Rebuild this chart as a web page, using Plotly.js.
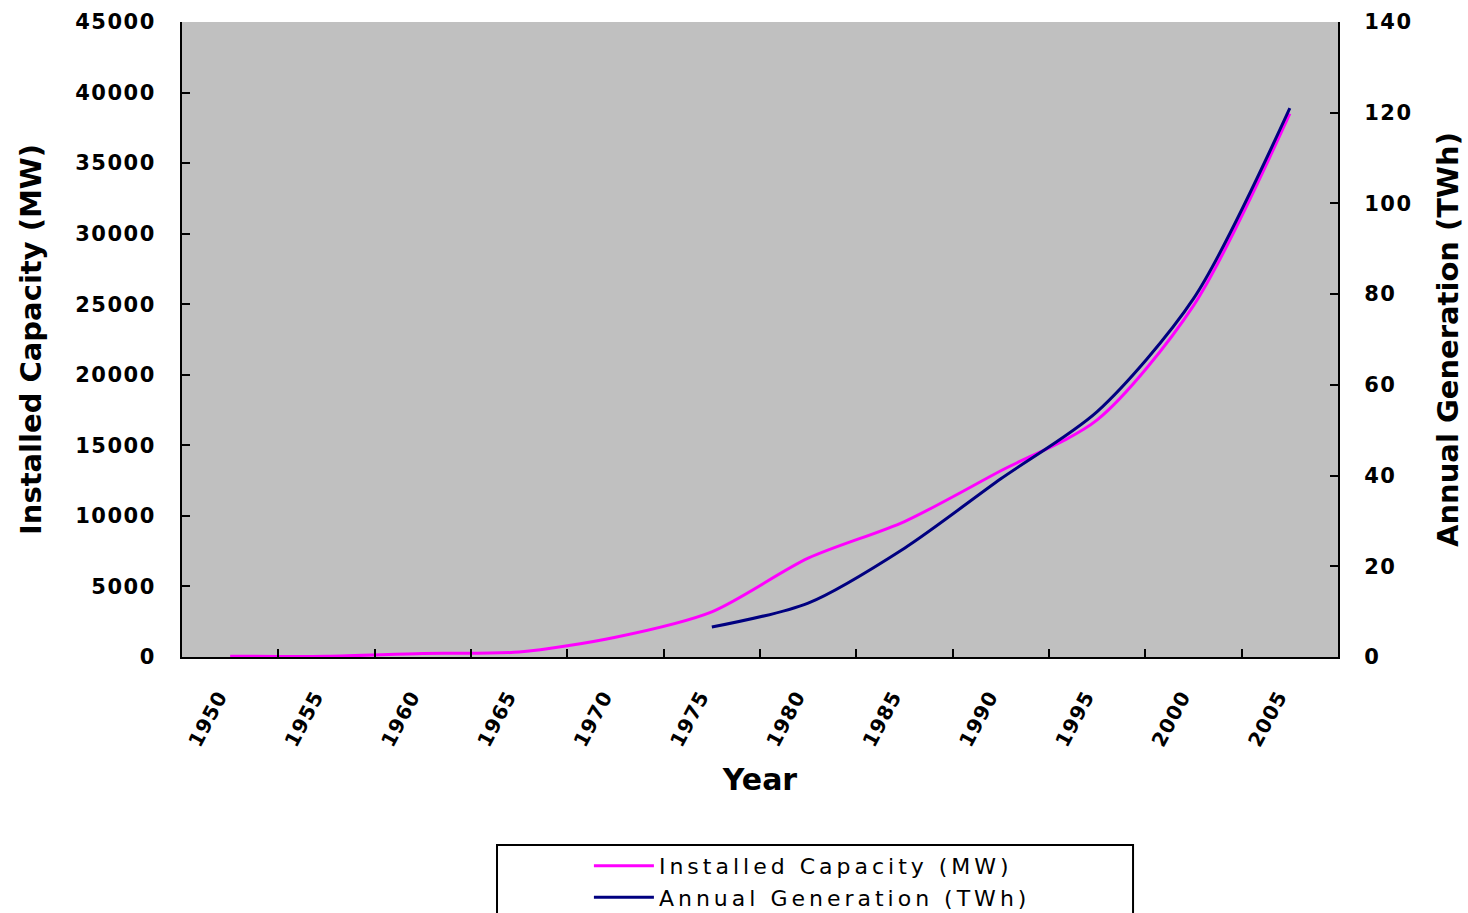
<!DOCTYPE html>
<html>
<head>
<meta charset="utf-8">
<script src="https://cdn.plot.ly/plotly-3.0.1.min.js"></script>
<style>
  html, body { margin: 0; padding: 0; background: #ffffff; }
  #chart { width: 1468px; height: 913px; }
  .ytick text, .y2tick text { letter-spacing: 1.5px; }
  .xtick text { letter-spacing: 1px; }
  .legendtext { letter-spacing: 4px; }
</style>
</head>
<body>
<div id="chart"></div>
<script>
// Five-year category labels on the horizontal axis
const years = ['1950', '1955', '1960', '1965', '1970', '1975', '1980', '1985', '1990', '1995', '2000', '2005'];

// Installed capacity, MW (left axis)
const capacityMW = [50, 60, 250, 350, 1400, 3200, 7000, 9600, 13200, 16800, 24900, 38500];

// Annual generation, TWh (right axis); no data before 1975
const generationTWh = [null, null, null, null, null, 6.6, 11.9, 24.0, 39.3, 54.1, 79.0, 121.0];

const seriesNames = ['Installed Capacity (MW)', 'Annual Generation (TWh)'];

const boldFont = 'DejaVu Sans, Arial, sans-serif';

const traces = [
  {
    x: years, y: capacityMW, name: seriesNames[0],
    type: 'scatter', mode: 'lines', yaxis: 'y',
    line: { color: '#FF00FF', width: 3, shape: 'spline', smoothing: 0.8 }
  },
  {
    x: years, y: generationTWh, name: seriesNames[1],
    type: 'scatter', mode: 'lines', yaxis: 'y2',
    line: { color: '#000080', width: 3, shape: 'spline', smoothing: 0.8 }
  }
];

const yTickFont = { family: boldFont, size: 21, color: '#000000', weight: 'bold' };
const xTickFont = { family: boldFont, size: 20, color: '#000000', weight: 'bold' };

const layout = {
  width: 1468, height: 913,
  margin: { l: 182, r: 130, t: 22, b: 256, pad: 0, autoexpand: false },
  paper_bgcolor: '#ffffff',
  plot_bgcolor: '#C0C0C0',
  showlegend: true,
  legend: {
    orientation: 'v',
    x: 0.352, y: -0.296, xanchor: 'left', yanchor: 'top',
    bgcolor: 'rgba(0,0,0,0)', borderwidth: 0,
    font: { family: 'DejaVu Sans, Arial, sans-serif', size: 22, color: '#000000' },
    itemwidth: 60, tracegroupgap: 0
  },
  xaxis: {
    type: 'category',
    range: [-0.5, 11.5],
    tickson: 'boundaries',
    ticks: 'inside', ticklen: 8, tickwidth: 2, tickcolor: '#000000',
    showline: true, linecolor: '#000000', linewidth: 2,
    showgrid: false, zeroline: false,
    tickangle: -62,
    tickfont: xTickFont,
    ticklabelstandoff: 18,
    ticklabelshift: -11,
    automargin: false,
    title: { text: 'Year', font: { family: boldFont, size: 30, color: '#000000', weight: 'bold' }, standoff: 19 }
  },
  xaxis2: {
    overlaying: 'x', side: 'top', type: 'category',
    showline: true, linecolor: '#7F7F7F', linewidth: 2,
    showticklabels: false, ticks: '', showgrid: false, zeroline: false
  },
  yaxis: {
    range: [0, 45000], dtick: 5000, tickformat: 'd',
    ticks: 'inside', ticklen: 8, tickwidth: 2, tickcolor: '#000000',
    showline: true, linecolor: '#000000', linewidth: 2,
    showgrid: false, zeroline: false,
    tickfont: yTickFont,
    ticklabelstandoff: 20,
    automargin: false,
    title: { text: 'Installed Capacity (MW)', font: { family: boldFont, size: 29, color: '#000000', weight: 'bold' }, standoff: 25 }
  },
  yaxis2: {
    overlaying: 'y', side: 'right',
    range: [0, 140], dtick: 20, tickformat: 'd',
    ticks: 'inside', ticklen: 8, tickwidth: 2, tickcolor: '#000000',
    showline: true, linecolor: '#000000', linewidth: 2,
    showgrid: false, zeroline: false,
    tickfont: yTickFont,
    ticklabelstandoff: 20,
    automargin: false,
    title: { text: 'Annual Generation (TWh)', font: { family: boldFont, size: 29, color: '#000000', weight: 'bold' }, standoff: 26 }
  },
  shapes: [
    {
      // legend frame
      type: 'rect', xref: 'paper', yref: 'paper', layer: 'below',
      x0: 0.2725, x1: 0.8227, y0: -0.296, y1: -0.45,
      line: { color: '#000000', width: 2 }, fillcolor: '#ffffff'
    }
  ]
};

Plotly.newPlot('chart', traces, layout, { displayModeBar: false, staticPlot: true });
</script>
</body>
</html>
